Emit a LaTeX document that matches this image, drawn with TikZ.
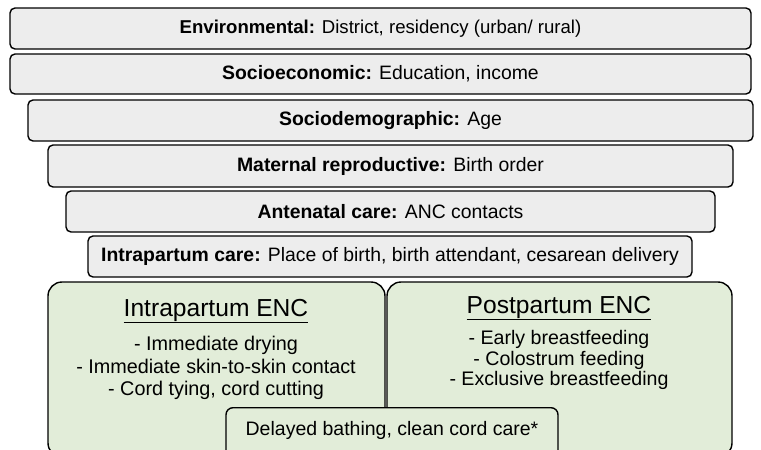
\documentclass[tikz,border=0pt]{standalone}
\usepackage{fontspec}
\setmainfont{Liberation Sans}
\usetikzlibrary{positioning}
\definecolor{layergray}{HTML}{EDEDED}
\definecolor{encgreen}{HTML}{E2EDD9}
\begin{document}
\begin{tikzpicture}[
        x=1pt, y=-1pt,
        layer/.style={draw, line width=1.4pt, fill=layergray, rounded corners=5pt,
            inner sep=0pt, font=\fontsize{19.4}{22}\selectfont},
        enc/.style={draw, line width=1.4pt, fill=encgreen, rounded corners=14pt,
            inner sep=0pt},
        head/.style={font=\fontsize{24.6}{28}\selectfont, inner sep=1pt},
        overlap/.style={draw, line width=1.4pt, fill=encgreen, rounded corners=7pt,
            inner sep=0pt, font=\fontsize{19.5}{22}\selectfont},
    ]
    \useasboundingbox (0, 0) rectangle (761, 450);
    \clip (0, 0) rectangle (761, 450);

    \node[layer, font=\fontsize{18.6}{21}\selectfont, minimum width=741, minimum height=41]
        (env) at (380.5, 28.5)
        {\textbf{Environmental:} District, residency (urban/ rural)};
    \node[layer, minimum width=741, minimum height=40] (socio) at (380.5, 74)
        {\textbf{Socioeconomic:} Education, income};
    \node[layer, minimum width=725, minimum height=41] (demo) at (390.5, 120.5)
        {\textbf{Sociodemographic:} Age};
    \node[layer, minimum width=685, minimum height=42] (matern) at (390.5, 166)
        {\textbf{Maternal reproductive:} Birth order};
    \node[layer, minimum width=649, minimum height=41] (anc) at (390.5, 211.5)
        {\textbf{Antenatal care:} ANC contacts};
    \node[layer, minimum width=604, minimum height=41] (intra) at (390, 256.5)
        {\textbf{Intrapartum care:} Place of birth, birth attendant, cesarean delivery};

    \node[enc, minimum width=337, minimum height=175] (ienc) at (216.5, 369.5) {};
    \node[enc, minimum width=345, minimum height=175] (penc) at (559.5, 369.5) {};

    \node[head] (ihead) at (216, 311) {\underline{Intrapartum ENC}};
    \node[align=center, font=\fontsize{19.8}{22.5}\selectfont] (ilist) at (216, 368)
        {- Immediate drying\\ - Immediate skin-to-skin contact\\ - Cord tying, cord cutting};

    \node[head] (phead) at (559, 308) {\underline{Postpartum ENC}};
    \node[align=center, font=\fontsize{19.6}{20.3}\selectfont] (plist) at (559, 360)
        {- Early breastfeeding\\ - Colostrum feeding\\ - Exclusive breastfeeding};

    \node[overlap, minimum width=332, text height=28pt, text depth=40pt, anchor=north]
        (bath) at (392, 407) {Delayed bathing, clean cord care*};

\end{tikzpicture}
\end{document}
